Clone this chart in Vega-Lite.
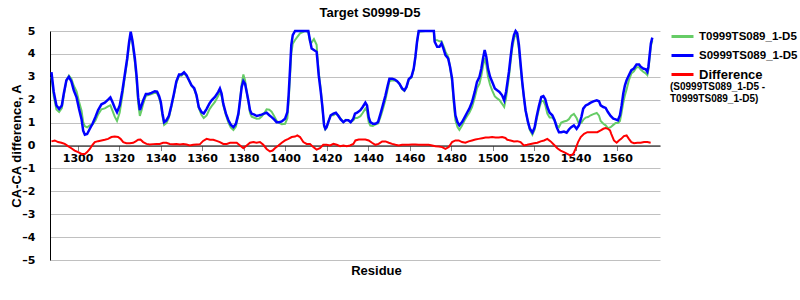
{
"$schema": "https://vega.github.io/schema/vega-lite/v6.json",
"width": 610, "height": 229,
"autosize": {"type": "none"},
"padding": {"left": 50, "top": 31, "right": 140, "bottom": 40},
"background": "white",
"config": {"view": {"stroke": null}, "font": "Liberation Sans", "axisY": {"labelOverlap": false}},
"title": {"text": "Target S0999-D5", "font": "Liberation Sans", "fontSize": 13, "fontWeight": "bold", "color": "black", "offset": 4, "dx": 15},
"datasets": {
"st": [
{"r":1287.4,"S":3.2,"T":3.0},{"r":1288.5,"S":2.35,"T":2.15},{"r":1289.8,"S":1.75,"T":1.57},{"r":1291.1,"S":1.6,"T":1.46},{"r":1292.4,"S":1.75,"T":1.63},{"r":1293.3,"S":2.25,"T":2.16},{"r":1294.6,"S":2.85,"T":2.83},{"r":1295.8,"S":3.0,"T":3.05},{"r":1297.0,"S":2.8,"T":2.92},{"r":1298.2,"S":2.4,"T":2.6},{"r":1299.5,"S":2.1,"T":2.36},{"r":1300.7,"S":1.6,"T":1.91},{"r":1301.9,"S":1.15,"T":1.52},{"r":1302.7,"S":0.65,"T":1.02},{"r":1303.5,"S":0.47,"T":0.84},{"r":1304.6,"S":0.5,"T":0.79},{"r":1305.9,"S":0.73,"T":0.88},{"r":1307.2,"S":0.95,"T":0.92},{"r":1308.6,"S":1.25,"T":1.09},{"r":1309.9,"S":1.55,"T":1.36},{"r":1311.5,"S":1.8,"T":1.58},{"r":1313.1,"S":1.87,"T":1.62},{"r":1314.7,"S":2.0,"T":1.71},{"r":1315.8,"S":2.1,"T":1.75},{"r":1316.8,"S":1.9,"T":1.52},{"r":1317.9,"S":1.65,"T":1.26},{"r":1319.0,"S":1.45,"T":1.07},{"r":1320.3,"S":1.75,"T":1.44},{"r":1321.6,"S":2.4,"T":2.2},{"r":1322.7,"S":3.07,"T":2.94},{"r":1323.9,"S":3.8,"T":3.7},{"r":1324.8,"S":4.5,"T":4.4},{"r":1325.6,"S":4.97,"T":4.87},{"r":1326.4,"S":4.6,"T":4.49},{"r":1327.6,"S":3.8,"T":3.64},{"r":1328.4,"S":3.07,"T":2.87},{"r":1329.2,"S":2.1,"T":1.85},{"r":1330.0,"S":1.55,"T":1.29},{"r":1330.8,"S":1.75,"T":1.53},{"r":1331.6,"S":1.97,"T":1.82},{"r":1332.9,"S":2.25,"T":2.17},{"r":1334.2,"S":2.25,"T":2.2},{"r":1335.6,"S":2.3,"T":2.25},{"r":1337.2,"S":2.37,"T":2.3},{"r":1338.3,"S":2.35,"T":2.28},{"r":1339.3,"S":2.15,"T":2.08},{"r":1340.1,"S":1.9,"T":1.81},{"r":1340.9,"S":1.4,"T":1.29},{"r":1341.7,"S":1.02,"T":0.9},{"r":1342.8,"S":1.1,"T":0.98},{"r":1344.0,"S":1.3,"T":1.22},{"r":1345.2,"S":1.75,"T":1.68},{"r":1346.4,"S":2.25,"T":2.19},{"r":1347.6,"S":2.8,"T":2.73},{"r":1348.9,"S":3.1,"T":3.05},{"r":1350.1,"S":3.1,"T":3.05},{"r":1351.3,"S":3.2,"T":3.15},{"r":1352.5,"S":3.07,"T":3.03},{"r":1353.7,"S":2.85,"T":2.84},{"r":1354.9,"S":2.63,"T":2.61},{"r":1356.2,"S":2.5,"T":2.47},{"r":1357.3,"S":2.2,"T":2.16},{"r":1358.4,"S":1.68,"T":1.64},{"r":1359.7,"S":1.46,"T":1.34},{"r":1360.8,"S":1.4,"T":1.2},{"r":1362.2,"S":1.6,"T":1.31},{"r":1363.5,"S":1.83,"T":1.57},{"r":1364.6,"S":1.97,"T":1.72},{"r":1366.2,"S":2.12,"T":1.9},{"r":1367.8,"S":2.34,"T":2.17},{"r":1368.6,"S":2.49,"T":2.34},{"r":1369.4,"S":2.27,"T":2.16},{"r":1370.2,"S":1.83,"T":1.76},{"r":1371.5,"S":1.39,"T":1.32},{"r":1372.7,"S":1.1,"T":1.0},{"r":1373.8,"S":0.91,"T":0.79},{"r":1375.1,"S":0.8,"T":0.68},{"r":1376.3,"S":0.95,"T":0.83},{"r":1377.5,"S":1.39,"T":1.33},{"r":1378.3,"S":1.97,"T":1.97},{"r":1379.1,"S":2.56,"T":2.7},{"r":1379.9,"S":2.81,"T":3.1},{"r":1380.7,"S":2.7,"T":2.85},{"r":1381.5,"S":2.34,"T":2.34},{"r":1382.3,"S":1.97,"T":1.91},{"r":1383.1,"S":1.54,"T":1.42},{"r":1383.9,"S":1.39,"T":1.26},{"r":1385.2,"S":1.35,"T":1.21},{"r":1386.3,"S":1.29,"T":1.17},{"r":1387.6,"S":1.32,"T":1.18},{"r":1388.7,"S":1.35,"T":1.26},{"r":1389.8,"S":1.39,"T":1.39},{"r":1391.1,"S":1.43,"T":1.58},{"r":1392.4,"S":1.32,"T":1.56},{"r":1393.5,"S":1.24,"T":1.48},{"r":1394.7,"S":1.14,"T":1.29},{"r":1395.9,"S":1.02,"T":1.08},{"r":1397.2,"S":1.02,"T":0.99},{"r":1398.4,"S":1.05,"T":0.93},{"r":1400.0,"S":1.17,"T":0.95},{"r":1401.1,"S":1.46,"T":1.19},{"r":1401.7,"S":2.19,"T":1.9},{"r":1402.4,"S":3.36,"T":3.03},{"r":1403.0,"S":4.39,"T":4.03},{"r":1403.7,"S":4.82,"T":4.44},{"r":1404.8,"S":5,"T":4.61},{"r":1407.2,"S":5,"T":4.9},{"r":1409.6,"S":5,"T":5},{"r":1411.2,"S":5,"T":4.95},{"r":1412.0,"S":4.6,"T":4.53},{"r":1412.8,"S":4.24,"T":4.5},{"r":1413.9,"S":4.17,"T":4.65},{"r":1415.2,"S":4.09,"T":4.4},{"r":1415.5,"S":3.8,"T":4.0},{"r":1416.2,"S":3.07,"T":3.2},{"r":1417.2,"S":2.34,"T":2.45},{"r":1418.0,"S":1.68,"T":1.65},{"r":1418.8,"S":0.88,"T":0.85},{"r":1419.4,"S":0.73,"T":0.7},{"r":1420.0,"S":0.8,"T":0.77},{"r":1420.8,"S":1.02,"T":1.0},{"r":1422.0,"S":1.32,"T":1.32},{"r":1423.3,"S":1.39,"T":1.32},{"r":1424.5,"S":1.43,"T":1.4},{"r":1425.7,"S":1.29,"T":1.31},{"r":1426.8,"S":1.14,"T":1.17},{"r":1428.1,"S":1.02,"T":1.02},{"r":1429.2,"S":1.1,"T":1.12},{"r":1430.5,"S":1.1,"T":1.11},{"r":1431.6,"S":1.02,"T":1.02},{"r":1432.9,"S":1.17,"T":1.1},{"r":1433.7,"S":1.39,"T":1.2},{"r":1434.7,"S":1.43,"T":1.2},{"r":1436.3,"S":1.54,"T":1.28},{"r":1437.4,"S":1.68,"T":1.42},{"r":1438.7,"S":1.87,"T":1.61},{"r":1439.5,"S":1.75,"T":1.5},{"r":1440.3,"S":1.24,"T":1.02},{"r":1441.1,"S":1.02,"T":0.87},{"r":1442.3,"S":0.95,"T":0.85},{"r":1443.5,"S":0.95,"T":0.92},{"r":1444.8,"S":1.02,"T":0.96},{"r":1446.0,"S":1.39,"T":1.25},{"r":1447.1,"S":1.75,"T":1.57},{"r":1448.4,"S":2.19,"T":2.01},{"r":1449.5,"S":2.63,"T":2.48},{"r":1450.3,"S":2.92,"T":2.8},{"r":1451.6,"S":2.92,"T":2.85},{"r":1452.9,"S":2.88,"T":2.84},{"r":1454.0,"S":2.81,"T":2.8},{"r":1455.1,"S":2.7,"T":2.69},{"r":1456.4,"S":2.49,"T":2.46},{"r":1457.5,"S":2.41,"T":2.38},{"r":1458.5,"S":2.56,"T":2.53},{"r":1459.6,"S":2.9,"T":2.87},{"r":1460.9,"S":3.0,"T":2.96},{"r":1462.0,"S":3.36,"T":3.32},{"r":1462.8,"S":3.87,"T":3.83},{"r":1463.6,"S":4.53,"T":4.5},{"r":1464.4,"S":5,"T":4.97},{"r":1467.6,"S":5,"T":5},{"r":1471.7,"S":5,"T":5},{"r":1472.1,"S":4.53,"T":4.6},{"r":1473.3,"S":4.31,"T":4.6},{"r":1474.4,"S":4.31,"T":4.55},{"r":1475.4,"S":4.46,"T":4.55},{"r":1476.3,"S":4.24,"T":4.35},{"r":1477.3,"S":3.95,"T":4.1},{"r":1478.6,"S":3.8,"T":3.87},{"r":1479.5,"S":3.44,"T":3.45},{"r":1480.5,"S":2.92,"T":2.77},{"r":1481.3,"S":2.05,"T":1.85},{"r":1482.1,"S":1.32,"T":1.1},{"r":1483.1,"S":1.02,"T":0.8},{"r":1484.0,"S":0.88,"T":0.68},{"r":1485.3,"S":1.02,"T":0.87},{"r":1486.6,"S":1.24,"T":1.12},{"r":1487.7,"S":1.43,"T":1.28},{"r":1488.8,"S":1.61,"T":1.43},{"r":1490.1,"S":1.9,"T":1.68},{"r":1491.4,"S":2.34,"T":2.09},{"r":1492.5,"S":2.78,"T":2.5},{"r":1493.7,"S":3.0,"T":2.7},{"r":1494.6,"S":3.36,"T":3.05},{"r":1495.4,"S":3.8,"T":3.47},{"r":1496.2,"S":4.17,"T":3.82},{"r":1497.0,"S":3.87,"T":3.52},{"r":1497.8,"S":3.36,"T":3.01},{"r":1498.8,"S":3.0,"T":2.65},{"r":1499.8,"S":2.78,"T":2.41},{"r":1501.1,"S":2.49,"T":2.14},{"r":1502.2,"S":2.41,"T":2.06},{"r":1503.3,"S":2.34,"T":1.99},{"r":1504.6,"S":2.19,"T":1.82},{"r":1505.6,"S":1.97,"T":1.68},{"r":1506.5,"S":2.34,"T":2.07},{"r":1507.9,"S":3.22,"T":3.0},{"r":1508.7,"S":3.87,"T":3.65},{"r":1509.5,"S":4.46,"T":4.26},{"r":1510.3,"S":4.82,"T":4.64},{"r":1511.1,"S":5,"T":4.9},{"r":1511.9,"S":4.9,"T":4.71},{"r":1512.7,"S":4.39,"T":4.22},{"r":1513.5,"S":3.58,"T":3.43},{"r":1514.3,"S":2.78,"T":2.7},{"r":1515.1,"S":2.12,"T":2.12},{"r":1515.9,"S":1.54,"T":1.53},{"r":1517.1,"S":1.02,"T":0.99},{"r":1518.0,"S":0.73,"T":0.67},{"r":1519.2,"S":0.56,"T":0.47},{"r":1520.3,"S":0.8,"T":0.7},{"r":1521.2,"S":1.24,"T":1.12},{"r":1522.4,"S":1.75,"T":1.6},{"r":1523.5,"S":2.12,"T":1.94},{"r":1524.5,"S":2.16,"T":1.95},{"r":1525.4,"S":2.02,"T":1.77},{"r":1526.4,"S":1.68,"T":1.39},{"r":1527.5,"S":1.43,"T":1.22},{"r":1528.8,"S":1.32,"T":1.22},{"r":1529.9,"S":1.1,"T":1.1},{"r":1530.9,"S":0.8,"T":0.88},{"r":1532.0,"S":0.58,"T":0.8},{"r":1533.1,"S":0.58,"T":1.0},{"r":1534.4,"S":0.61,"T":1.05},{"r":1535.7,"S":0.56,"T":1.08},{"r":1536.8,"S":0.7,"T":1.15},{"r":1537.9,"S":0.8,"T":1.3},{"r":1539.2,"S":0.88,"T":1.38},{"r":1540.5,"S":0.73,"T":1.2},{"r":1541.6,"S":0.88,"T":0.95},{"r":1542.8,"S":1.24,"T":1.0},{"r":1543.7,"S":1.61,"T":1.12},{"r":1544.9,"S":1.75,"T":1.22},{"r":1546.0,"S":1.8,"T":1.24},{"r":1547.3,"S":1.87,"T":1.32},{"r":1548.6,"S":1.93,"T":1.37},{"r":1550.2,"S":1.97,"T":1.42},{"r":1551.3,"S":1.93,"T":1.3},{"r":1552.1,"S":1.75,"T":1.07},{"r":1553.4,"S":1.68,"T":0.95},{"r":1554.5,"S":1.64,"T":0.88},{"r":1555.6,"S":1.46,"T":0.76},{"r":1556.9,"S":1.29,"T":0.8},{"r":1558.2,"S":1.17,"T":0.9},{"r":1559.3,"S":1.14,"T":0.98},{"r":1560.4,"S":1.1,"T":0.98},{"r":1561.4,"S":1.32,"T":1.07},{"r":1562.2,"S":1.75,"T":1.45},{"r":1563.0,"S":2.27,"T":1.87},{"r":1563.8,"S":2.63,"T":2.2},{"r":1564.6,"S":2.85,"T":2.45},{"r":1565.7,"S":3.07,"T":2.85},{"r":1566.9,"S":3.29,"T":3.14},{"r":1568.1,"S":3.36,"T":3.24},{"r":1569.4,"S":3.54,"T":3.42},{"r":1570.6,"S":3.54,"T":3.42},{"r":1571.4,"S":3.44,"T":3.32},{"r":1572.6,"S":3.36,"T":3.22},{"r":1573.8,"S":3.33,"T":3.15},{"r":1574.6,"S":3.22,"T":3.07},{"r":1575.1,"S":3.44,"T":3.3},{"r":1575.7,"S":3.95,"T":3.82},{"r":1576.3,"S":4.46,"T":4.34},{"r":1577.0,"S":4.71,"T":4.59}
],
"d": [
{"r":1287.4,"D":0.18},{"r":1289.0,"D":0.22},{"r":1290.6,"D":0.15},{"r":1292.2,"D":0.12},{"r":1293.8,"D":0.07},{"r":1295.4,"D":-0.03},{"r":1297.0,"D":-0.12},{"r":1298.6,"D":-0.22},{"r":1300.3,"D":-0.29},{"r":1301.9,"D":-0.37},{"r":1303.5,"D":-0.37},{"r":1304.6,"D":-0.29},{"r":1305.9,"D":-0.15},{"r":1307.2,"D":0.03},{"r":1308.3,"D":0.15},{"r":1309.9,"D":0.19},{"r":1311.5,"D":0.22},{"r":1313.1,"D":0.25},{"r":1314.7,"D":0.29},{"r":1316.3,"D":0.37},{"r":1317.9,"D":0.39},{"r":1319.5,"D":0.37},{"r":1320.7,"D":0.29},{"r":1322.0,"D":0.15},{"r":1323.5,"D":0.1},{"r":1325.2,"D":0.1},{"r":1326.8,"D":0.12},{"r":1328.0,"D":0.18},{"r":1329.2,"D":0.25},{"r":1330.3,"D":0.26},{"r":1331.6,"D":0.15},{"r":1333.2,"D":0.07},{"r":1334.8,"D":0.04},{"r":1336.4,"D":0.06},{"r":1338.0,"D":0.07},{"r":1339.6,"D":0.07},{"r":1341.2,"D":0.12},{"r":1342.8,"D":0.12},{"r":1344.4,"D":0.07},{"r":1346.0,"D":0.06},{"r":1347.6,"D":0.07},{"r":1349.3,"D":0.04},{"r":1350.9,"D":0.06},{"r":1352.5,"D":0.04},{"r":1354.1,"D":0},{"r":1355.7,"D":0.03},{"r":1357.3,"D":0.04},{"r":1358.9,"D":0.05},{"r":1360.5,"D":0.2},{"r":1362.2,"D":0.29},{"r":1363.8,"D":0.25},{"r":1365.4,"D":0.25},{"r":1367.0,"D":0.2},{"r":1368.6,"D":0.15},{"r":1370.2,"D":0.07},{"r":1371.9,"D":0.07},{"r":1373.5,"D":0.12},{"r":1375.1,"D":0.12},{"r":1376.7,"D":0.12},{"r":1378.3,"D":0},{"r":1379.9,"D":-0.12},{"r":1381.5,"D":0},{"r":1383.1,"D":0.12},{"r":1384.7,"D":0.15},{"r":1386.3,"D":0.12},{"r":1387.9,"D":0.15},{"r":1389.5,"D":0.03},{"r":1391.1,"D":-0.15},{"r":1392.7,"D":-0.26},{"r":1394.0,"D":-0.22},{"r":1395.1,"D":-0.12},{"r":1396.8,"D":0},{"r":1398.4,"D":0.12},{"r":1400.0,"D":0.22},{"r":1401.6,"D":0.29},{"r":1403.2,"D":0.37},{"r":1404.8,"D":0.39},{"r":1405.9,"D":0.44},{"r":1407.2,"D":0.37},{"r":1408.8,"D":0.15},{"r":1410.4,"D":0.07},{"r":1412.0,"D":0.07},{"r":1413.6,"D":-0.07},{"r":1415.2,"D":-0.18},{"r":1416.8,"D":-0.12},{"r":1418.4,"D":0.03},{"r":1420.0,"D":0.03},{"r":1421.7,"D":0},{"r":1423.3,"D":0.07},{"r":1424.9,"D":0.03},{"r":1426.5,"D":-0.03},{"r":1428.1,"D":0},{"r":1429.7,"D":-0.03},{"r":1431.3,"D":0},{"r":1432.9,"D":0.07},{"r":1433.9,"D":0.22},{"r":1435.5,"D":0.26},{"r":1437.1,"D":0.26},{"r":1438.7,"D":0.26},{"r":1440.3,"D":0.22},{"r":1441.9,"D":0.12},{"r":1443.5,"D":0.03},{"r":1445.1,"D":0.07},{"r":1446.8,"D":0.18},{"r":1448.4,"D":0.18},{"r":1450.0,"D":0.12},{"r":1451.6,"D":0.07},{"r":1453.2,"D":0.03},{"r":1454.8,"D":0},{"r":1456.4,"D":0.03},{"r":1458.0,"D":0.03},{"r":1459.6,"D":0.03},{"r":1461.2,"D":0.04},{"r":1462.8,"D":0.04},{"r":1464.4,"D":0.03},{"r":1466.0,"D":0.03},{"r":1467.6,"D":0.03},{"r":1469.2,"D":0.03},{"r":1470.9,"D":0},{"r":1472.5,"D":-0.03},{"r":1474.1,"D":-0.04},{"r":1475.7,"D":-0.07},{"r":1477.3,"D":-0.15},{"r":1478.9,"D":-0.07},{"r":1480.5,"D":0.15},{"r":1482.1,"D":0.22},{"r":1483.7,"D":0.22},{"r":1485.3,"D":0.15},{"r":1486.9,"D":0.12},{"r":1488.5,"D":0.18},{"r":1490.1,"D":0.22},{"r":1491.7,"D":0.26},{"r":1493.3,"D":0.29},{"r":1495.0,"D":0.32},{"r":1496.6,"D":0.35},{"r":1498.2,"D":0.35},{"r":1499.8,"D":0.37},{"r":1501.4,"D":0.35},{"r":1503.0,"D":0.35},{"r":1504.6,"D":0.37},{"r":1506.2,"D":0.33},{"r":1507.1,"D":0.25},{"r":1508.7,"D":0.22},{"r":1510.3,"D":0.18},{"r":1511.9,"D":0.19},{"r":1513.5,"D":0.15},{"r":1515.1,"D":0},{"r":1516.7,"D":0.03},{"r":1518.4,"D":0.07},{"r":1520.0,"D":0.1},{"r":1521.6,"D":0.12},{"r":1523.2,"D":0.18},{"r":1524.8,"D":0.22},{"r":1526.4,"D":0.29},{"r":1528.0,"D":0.18},{"r":1529.6,"D":0.03},{"r":1531.2,"D":-0.12},{"r":1532.8,"D":-0.22},{"r":1534.4,"D":-0.29},{"r":1536.0,"D":-0.37},{"r":1537.6,"D":-0.44},{"r":1538.9,"D":-0.37},{"r":1540.0,"D":-0.15},{"r":1541.2,"D":0.15},{"r":1542.5,"D":0.37},{"r":1544.1,"D":0.51},{"r":1545.7,"D":0.58},{"r":1547.3,"D":0.58},{"r":1548.9,"D":0.58},{"r":1550.5,"D":0.58},{"r":1552.1,"D":0.66},{"r":1553.4,"D":0.73},{"r":1554.5,"D":0.76},{"r":1555.6,"D":0.73},{"r":1556.6,"D":0.66},{"r":1557.2,"D":0.51},{"r":1558.5,"D":0.22},{"r":1559.8,"D":0.12},{"r":1560.9,"D":0.22},{"r":1562.0,"D":0.29},{"r":1563.3,"D":0.41},{"r":1564.6,"D":0.44},{"r":1565.7,"D":0.29},{"r":1566.9,"D":0.15},{"r":1568.2,"D":0.1},{"r":1569.8,"D":0.12},{"r":1571.4,"D":0.12},{"r":1573.0,"D":0.15},{"r":1574.6,"D":0.15},{"r":1576.2,"D":0.12}
]
},
"encoding": {
"x": {"field": "r", "type": "quantitative", "scale": {"domain": [1286.7, 1580.7], "nice": false, "zero": false},
 "axis": {"values": [1300,1320,1340,1360,1380,1400,1420,1440,1460,1480,1500,1520,1540,1560], "format": "d", "offset": -114.5, "grid": false, "domainColor": "black", "domainWidth": 1, "tickColor": "#808080", "tickSize": 5, "labelPadding": 2, "labelFont": "DejaVu Sans", "labelFontSize": 11, "labelFontWeight": "bold", "labelColor": "black", "labelFlush": false, "labelOverlap": false, "title": "Residue", "titleFont": "Liberation Sans", "titleFontSize": 13, "titleFontWeight": "bold", "titleColor": "black", "titleX": 326, "titleY": 124.5, "titleBaseline": "middle", "zindex": 0}}
},
"layer": [
{"data": {"name": "st"}, "mark": {"type": "line", "strokeWidth": 2},
 "encoding": {
  "y": {"field": "T", "type": "quantitative", "title": "CA-CA difference, A", "scale": {"domain": [-5, 5], "nice": false},
   "axis": {"values": [-5,-4,-3,-2,-1,0,1,2,3,4,5], "labelOverlap": false, "labelExpr": "replace(datum.label, '\u2212', '\u2013')", "grid": true, "gridColor": "#c0c0c0", "gridWidth": 1, "domainColor": "black", "domainWidth": 1, "ticks": false, "labelPadding": 15, "labelFont": "DejaVu Sans", "labelFontSize": 11, "labelFontWeight": "bold", "labelColor": "black", "titleFont": "Liberation Sans", "titleFontSize": 13, "titleFontWeight": "bold", "titleColor": "black", "titlePadding": -2}},
  "color": {"datum": "T0999TS089_1-D5", "type": "nominal",
   "scale": {"domain": ["T0999TS089_1-D5", "S0999TS089_1-D5", "Difference"], "range": ["#66cc66", "#0000ff", "#ff0000"]},
   "legend": {"orient": "none", "legendX": 620, "legendY": -7, "padding": 0, "title": ["(S0999TS089_1-D5 -", "\u00a0\u00a0\u00a0\u00a0\u00a0\u00a0\u00a0\u00a0\u00a0\u00a0\u00a0T0999TS089_1-D5)"], "titleOrient": "bottom", "titleFont": "Liberation Sans", "titleFontSize": 10, "titleFontWeight": "bold", "titleColor": "black", "titleLineHeight": 11.5, "titlePadding": 0, "titleAnchor": "start", "titleAlign": "left", "titleLimit": 0, "symbolType": "stroke", "symbolSize": 484, "symbolStrokeWidth": 3, "labelFont": "Liberation Sans", "labelFontSize": 11.5, "labelFontWeight": "bold", "labelColor": "black", "labelOffset": 4, "labelLimit": 0, "rowPadding": -2,
    "encode": {"labels": {"update": {"fontSize": {"signal": "datum.label === 'Difference' ? 13 : 11.5"}}}}}}
 }},
{"data": {"name": "st"}, "mark": {"type": "line", "strokeWidth": 2.5},
 "encoding": {"y": {"field": "S", "type": "quantitative", "title": "CA-CA difference, A",
   "axis": {"values": [-5,-4,-3,-2,-1,0,1,2,3,4,5], "labelOverlap": false, "labelExpr": "replace(datum.label, '\u2212', '\u2013')", "grid": true, "gridColor": "#c0c0c0", "gridWidth": 1, "domainColor": "black", "domainWidth": 1, "ticks": false, "labelPadding": 15, "labelFont": "DejaVu Sans", "labelFontSize": 11, "labelFontWeight": "bold", "labelColor": "black", "titleFont": "Liberation Sans", "titleFontSize": 13, "titleFontWeight": "bold", "titleColor": "black", "titlePadding": -2}},
  "color": {"datum": "S0999TS089_1-D5", "type": "nominal"}}},
{"data": {"name": "d"}, "mark": {"type": "line", "strokeWidth": 2},
 "encoding": {"y": {"field": "D", "type": "quantitative", "title": "CA-CA difference, A",
   "axis": {"values": [-5,-4,-3,-2,-1,0,1,2,3,4,5], "labelOverlap": false, "labelExpr": "replace(datum.label, '\u2212', '\u2013')", "grid": true, "gridColor": "#c0c0c0", "gridWidth": 1, "domainColor": "black", "domainWidth": 1, "ticks": false, "labelPadding": 15, "labelFont": "DejaVu Sans", "labelFontSize": 11, "labelFontWeight": "bold", "labelColor": "black", "titleFont": "Liberation Sans", "titleFontSize": 13, "titleFontWeight": "bold", "titleColor": "black", "titlePadding": -2}},
  "color": {"datum": "Difference", "type": "nominal"}}}
]
}
